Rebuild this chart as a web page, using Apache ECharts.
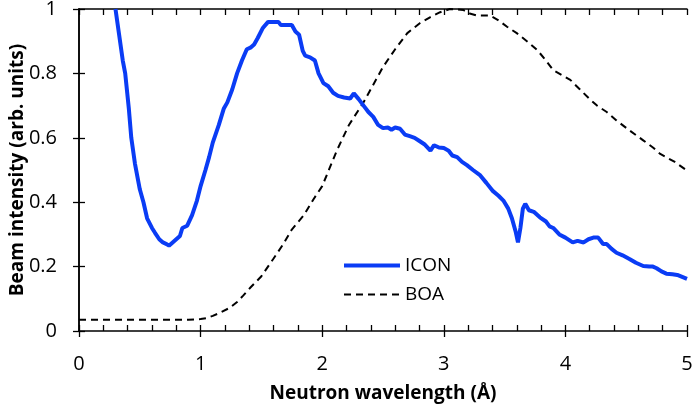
<!DOCTYPE html>
<html>
<head>
<meta charset="utf-8">
<script src="https://cdn.jsdelivr.net/npm/echarts@6/dist/echarts.min.js"></script>
<style>html,body{margin:0;padding:0;background:#fff;}#c{width:692px;height:405px;}</style>
</head>
<body>
<div id="c"></div>
<script>
const seriesNames = ['ICON', 'BOA'];
const xTitle = 'Neutron wavelength (Å)';
const yTitle = 'Beam intensity (arb. units)';

const iconX = [0.30,0.33,0.36,0.38,0.41,0.43,0.46,0.50,0.53,0.56,0.60,0.625,0.66,0.69,0.72,0.74,0.77,0.80,0.83,0.85,0.89,0.93,0.97,1.00,1.04,1.07,1.10,1.15,1.19,1.22,1.26,1.30,1.34,1.38,1.41,1.44,1.47,1.51,1.555,1.60,1.64,1.66,1.70,1.75,1.78,1.81,1.84,1.86,1.90,1.94,1.97,2.01,2.05,2.09,2.13,2.18,2.23,2.26,2.30,2.34,2.38,2.42,2.46,2.50,2.54,2.57,2.60,2.64,2.68,2.72,2.76,2.80,2.84,2.89,2.92,2.96,3.00,3.04,3.07,3.11,3.15,3.19,3.24,3.30,3.35,3.40,3.45,3.49,3.53,3.56,3.59,3.61,3.63,3.65,3.67,3.70,3.74,3.79,3.84,3.87,3.90,3.95,4.00,4.06,4.10,4.15,4.19,4.23,4.27,4.31,4.34,4.38,4.42,4.47,4.53,4.58,4.64,4.69,4.72,4.75,4.79,4.83,4.88,4.92,4.96,5.00];
const iconY = [1.00,0.92,0.84,0.80,0.69,0.60,0.52,0.44,0.40,0.35,0.32,0.305,0.285,0.275,0.27,0.265,0.275,0.285,0.295,0.32,0.327,0.36,0.405,0.45,0.50,0.54,0.585,0.64,0.69,0.71,0.75,0.80,0.84,0.875,0.88,0.89,0.91,0.94,0.96,0.96,0.96,0.95,0.95,0.95,0.93,0.92,0.87,0.855,0.85,0.84,0.80,0.77,0.76,0.74,0.73,0.725,0.722,0.738,0.72,0.70,0.68,0.665,0.64,0.63,0.632,0.625,0.632,0.628,0.61,0.605,0.60,0.59,0.58,0.56,0.577,0.57,0.568,0.56,0.545,0.54,0.525,0.515,0.50,0.483,0.46,0.436,0.42,0.405,0.38,0.35,0.31,0.275,0.32,0.38,0.395,0.375,0.37,0.353,0.34,0.325,0.32,0.30,0.29,0.275,0.28,0.275,0.285,0.29,0.29,0.27,0.27,0.255,0.243,0.235,0.223,0.212,0.202,0.20,0.20,0.195,0.185,0.178,0.176,0.174,0.168,0.162];

const boaX = [0,0.5,0.9,1.0,1.05,1.10,1.15,1.24,1.30,1.35,1.41,1.50,1.60,1.68,1.75,1.85,1.93,2.00,2.12,2.22,2.34,2.42,2.50,2.60,2.70,2.80,2.89,2.97,3.05,3.16,3.22,3.27,3.38,3.45,3.52,3.60,3.70,3.77,3.84,3.90,3.97,4.04,4.12,4.20,4.26,4.34,4.42,4.52,4.64,4.72,4.78,4.90,5.00];
const boaY = [0.035,0.035,0.035,0.037,0.04,0.047,0.055,0.072,0.09,0.11,0.135,0.17,0.225,0.27,0.315,0.36,0.41,0.45,0.56,0.64,0.71,0.765,0.82,0.875,0.925,0.955,0.975,0.99,1.0,0.997,0.985,0.98,0.98,0.965,0.945,0.925,0.895,0.872,0.84,0.81,0.795,0.78,0.75,0.72,0.70,0.68,0.654,0.625,0.592,0.57,0.55,0.525,0.498];

const font = '"Open Sans", "Liberation Sans", sans-serif';
const chart = echarts.init(document.getElementById('c'), null, {renderer: 'canvas'});
const axisLine = {show: true, lineStyle: {color: '#000', width: 1.5}};
const tickStyle = {color: '#000', width: 1.3};

chart.setOption({
  animation: false,
  backgroundColor: '#fff',
  grid: {left: 79, top: 9, right: 5, bottom: 74, containLabel: false, outerBoundsMode: 'none'},
  legend: {
    data: [
      {name: seriesNames[0], lineStyle: {width: 4}},
      {name: seriesNames[1]}
    ],
    orient: 'vertical',
    left: 337, top: 251,
    itemWidth: 56, itemHeight: 14, itemGap: 10,
    itemStyle: {opacity: 0},
    textStyle: {fontFamily: font, fontSize: 19, color: '#000'}
  },
  xAxis: [
    {type: 'value', position: 'bottom', min: 0, max: 5, interval: 1,
     axisLine: axisLine, splitLine: {show: false},
     axisTick: {show: true, inside: false, length: 6, lineStyle: tickStyle},
     axisLabel: {fontFamily: font, fontSize: 20, color: '#000', margin: 23},
     name: xTitle, nameLocation: 'middle', nameGap: 53, nameMoveOverlap: false,
     nameTextStyle: {fontFamily: font, fontSize: 19, fontWeight: 'bold', color: '#000'}},
    {type: 'value', position: 'bottom', min: 0, max: 5, interval: 0.2,
     axisLine: {show: false}, splitLine: {show: false},
     axisTick: {show: true, inside: true, length: 6, lineStyle: tickStyle},
     axisLabel: {show: false}},
    {type: 'value', position: 'top', min: 0, max: 5, interval: 0.2,
     axisLine: axisLine, splitLine: {show: false},
     axisTick: {show: true, inside: true, length: 6, lineStyle: tickStyle},
     axisLabel: {show: false}}
  ],
  yAxis: [
    {type: 'value', position: 'left', min: 0, max: 1, interval: 0.2,
     axisLine: axisLine, splitLine: {show: false},
     axisTick: {show: true, inside: true, length: 6, lineStyle: tickStyle},
     axisLabel: {fontFamily: font, fontSize: 20, color: '#000', margin: 22,
       formatter: v => (Math.round(v*10)/10).toString()},
     name: yTitle, nameLocation: 'middle', nameGap: 52, nameMoveOverlap: false,
     nameTextStyle: {fontFamily: font, fontSize: 19, fontWeight: 'bold', color: '#000'}},
    {type: 'value', position: 'right', min: 0, max: 1, interval: 0.2,
     axisLine: axisLine, splitLine: {show: false},
     axisTick: {show: true, inside: true, length: 6, lineStyle: tickStyle},
     axisLabel: {show: false}}
  ],
  series: [
    {name: seriesNames[0], type: 'line', xAxisIndex: 0, yAxisIndex: 0, symbol: 'none',
     data: iconX.map((x, i) => [x, iconY[i]]),
     lineStyle: {color: '#0a3cf5', width: 4}, itemStyle: {color: '#0a3cf5'}, z: 3},
    {name: seriesNames[1], type: 'line', xAxisIndex: 0, yAxisIndex: 0, symbol: 'none',
     data: boaX.map((x, i) => [x, boaY[i]]),
     lineStyle: {color: '#000', width: 2, type: [7, 5]}, itemStyle: {color: '#000'}, z: 2}
  ]
});
</script>
</body>
</html>
